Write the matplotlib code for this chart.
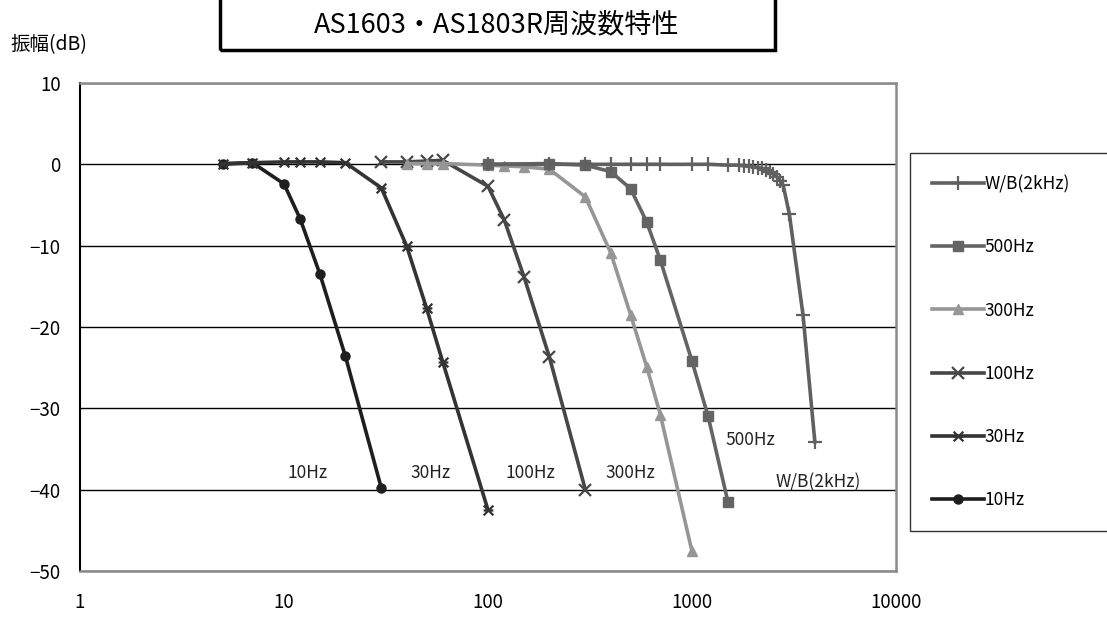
import matplotlib
matplotlib.use("Agg")
import matplotlib.pyplot as plt
from matplotlib.path import Path
from matplotlib.patches import Rectangle
from matplotlib.ticker import FixedLocator, FixedFormatter, NullLocator

plt.rcParams['font.family'] = ['Noto Sans CJK JP', 'DejaVu Sans']
plt.rcParams['axes.unicode_minus'] = True

# ---- data (frequency in Hz, amplitude in dB) ----
f_10 = [5, 7, 10, 12, 15, 20, 30]
a_10 = [0.1, 0.2, -2.4, -6.7, -13.5, -23.6, -39.8]

f_30 = [5, 7, 10, 12, 15, 20, 30, 40, 50, 60, 100]
a_30 = [0.0, 0.2, 0.3, 0.3, 0.3, 0.2, -2.9, -10.1, -17.7, -24.3, -42.5]

f_100 = [30, 40, 50, 60, 100, 120, 150, 200, 300]
a_100 = [0.3, 0.3, 0.4, 0.5, -2.7, -6.8, -13.8, -23.7, -40.0]

f_300 = [40, 50, 60, 100, 120, 150, 200, 300, 400, 500, 600, 700, 1000]
a_300 = [0.1, 0.1, 0.1, -0.1, -0.2, -0.3, -0.6, -4.0, -10.9, -18.5, -24.9, -30.8, -47.6]

f_500 = [100, 200, 300, 400, 500, 600, 700, 1000, 1200, 1500]
a_500 = [0.0, 0.1, -0.1, -0.9, -3.0, -7.1, -11.8, -24.2, -31.0, -41.5]

f_wb = [100, 200, 300, 400, 500, 600, 700, 1000, 1200, 1500, 1700, 1800, 1900,
        2000, 2100, 2200, 2300, 2400, 2500, 2600, 2700, 2800, 3000, 3500, 4000]
a_wb = [0.0, 0.0, 0.0, 0.0, 0.0, 0.0, 0.0, 0.0, 0.0, -0.1, -0.1, -0.2, -0.2,
        -0.3, -0.4, -0.5, -0.7, -0.9, -1.2, -1.5, -2.0, -2.6, -6.1, -18.5, -34.1]

series_labels = ['W/B(2kHz)', '500Hz', '300Hz', '100Hz', '30Hz', '10Hz']
curve_labels = ['10Hz', '30Hz', '100Hz', '300Hz', '500Hz', 'W/B(2kHz)']
curve_label_pos = [(13.1, -37.9), (52, -37.9), (161, -37.9), (498, -37.9),
                   (1926, -33.9), (4160, -39.1)]

y_ticks = [10, 0, -10, -20, -30, -40, -50]
x_ticks = [1, 10, 100, 1000, 10000]
x_tick_labels = ['1', '10', '100', '1000', '10000']

# asterisk-like marker (x with horizontal bar)
star = Path([(-1, -1), (1, 1), (-1, 1), (1, -1), (-1, 0), (1, 0)],
            [Path.MOVETO, Path.LINETO, Path.MOVETO, Path.LINETO, Path.MOVETO, Path.LINETO])

W, H = 1107, 618
fig = plt.figure(figsize=(W / 100, H / 100), dpi=100)
ax = fig.add_axes([80 / W, (H - 571) / H, 816 / W, 488 / H])

lw = 2.6
l10, = ax.plot(f_10, a_10, color='#1e1e1e', lw=lw, marker='o', ms=6.5, mec='#1e1e1e', mfc='#1e1e1e')
l30, = ax.plot(f_30, a_30, color='#333333', lw=lw, marker=star, ms=7, mew=1.6, mec='#333333', mfc='none')
l100, = ax.plot(f_100, a_100, color='#474747', lw=lw, marker='x', ms=9, mew=1.6, mec='#474747')
l300, = ax.plot(f_300, a_300, color='#969696', lw=lw, marker='^', ms=7, mec='#969696', mfc='#969696')
l500, = ax.plot(f_500, a_500, color='#646464', lw=lw, marker='s', ms=7, mec='#646464', mfc='#646464')
lwb, = ax.plot(f_wb, a_wb, color='#606060', lw=lw, marker='+', ms=10, mew=1.6, mec='#606060')

ax.set_xscale('log')
ax.set_xlim(1, 10000)
ax.set_ylim(-50, 10)
ax.xaxis.set_major_locator(FixedLocator(x_ticks))
ax.xaxis.set_major_formatter(FixedFormatter(x_tick_labels))
ax.xaxis.set_minor_locator(NullLocator())
ax.set_yticks(y_ticks)
ax.set_yticklabels([('\u2212' + str(-v)) if v < 0 else str(v) for v in y_ticks])
ax.tick_params(axis='both', length=0, labelsize=13.5, colors='black')
ax.tick_params(axis='y', pad=14)
ax.tick_params(axis='x', pad=15)
ax.yaxis.grid(True, color='black', lw=1.0)
ax.set_axisbelow(True)
for s in ['top', 'right', 'bottom']:
    ax.spines[s].set_color('#8a8a8a')
    ax.spines[s].set_linewidth(1.8)
ax.spines['left'].set_color('black')
ax.spines['left'].set_linewidth(1.5)

for lab, (x, y) in zip(curve_labels, curve_label_pos):
    ax.text(x, y, lab, ha='center', va='center', fontsize=12.5, color='#222222')

# legend
handles = [lwb, l500, l300, l100, l30, l10]
leg = fig.legend(handles, series_labels, loc='upper left',
                 bbox_to_anchor=(910 / W, 1 - 153 / H - 0.1, 0.25, 0.1), mode='expand',
                 fontsize=12.5, handlelength=3.0, handletextpad=0.0, labelspacing=2.6,
                 borderpad=1.27, borderaxespad=0, frameon=True, fancybox=False)
leg.get_frame().set_edgecolor('black')
leg.get_frame().set_linewidth(1.0)

# title box
fig.patches.append(Rectangle((220 / W, 1 - 50 / H), 555 / W, 52 / H, transform=fig.transFigure,
                             fill=False, lw=2.5, edgecolor='black', clip_on=False))
fig.text(497 / W, 1 - 25 / H, 'AS1603・AS1803R周波数特性', ha='center', va='center', fontsize=19.5)
fig.text(10 / W, 1 - 45 / H, '振幅(dB)', ha='left', va='center', fontsize=14)

fig.savefig('out.png', dpi=100)
